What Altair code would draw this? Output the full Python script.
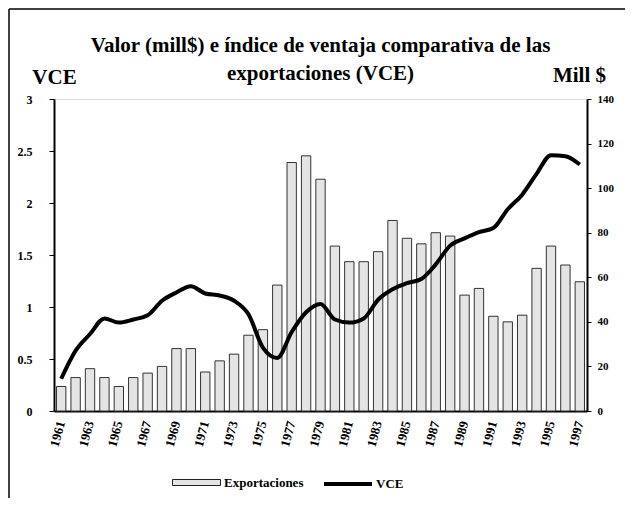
import altair as alt
import pandas as pd

years = list(range(1961, 1998))
exportaciones = [11, 15, 19, 15, 11, 15, 17, 20, 28, 28, 17.5, 22.5, 25.5, 34, 36.5,
                 56.5, 111.5, 114.5, 104, 74, 67, 67, 71.5, 85.5, 77.5, 75, 80, 78.5,
                 52, 55, 42.5, 40, 43, 64, 74, 65.5, 58]
vce = [0.31, 0.58, 0.74, 0.89, 0.85, 0.88, 0.92, 1.06, 1.14, 1.20, 1.13, 1.11, 1.06,
       0.93, 0.61, 0.51, 0.76, 0.95, 1.03, 0.88, 0.85, 0.89, 1.07, 1.17, 1.23, 1.27,
       1.41, 1.59, 1.66, 1.72, 1.76, 1.94, 2.08, 2.28, 2.46, 2.45, 2.37]
label_years = [y for y in years if y % 2 == 1]
vce_ticks = [0, 0.5, 1, 1.5, 2, 2.5, 3]
mill_ticks = [0, 20, 40, 60, 80, 100, 120, 140]

df = pd.DataFrame({"year": years, "exp": exportaciones, "vce": vce,
                   "s1": "Exportaciones", "s2": "VCE"})

FONT = "Liberation Serif"

x = alt.X("year:O", title=None,
          scale=alt.Scale(paddingInner=0.35, paddingOuter=0.175),
          axis=alt.Axis(values=label_years, labelAngle=-75, ticks=False,
                        domainColor="black", domainWidth=2,
                        labelFont=FONT, labelFontWeight="bold", labelFontSize=13,
                        labelColor="black", labelPadding=10))

bars = alt.Chart(df).mark_bar(stroke="#333333", strokeWidth=1).encode(
    x=x,
    y=alt.Y("exp:Q", title="Mill $",
            scale=alt.Scale(domain=[0, 140], nice=False),
            axis=alt.Axis(orient="right", values=mill_ticks, grid=False,
                          domainColor="black", domainWidth=2, tickColor="black",
                          tickSize=4, labelPadding=6, labelFont=FONT,
                          labelFontWeight="bold", labelFontSize=11, labelColor="black",
                          titleAngle=0, titleX=-8, titleY=-24, titleAlign="center",
                          titleBaseline="middle", titleFont=FONT, titleFontSize=21,
                          titleFontWeight="bold", titleColor="black")),
    fill=alt.Fill("s1:N", scale=alt.Scale(domain=["Exportaciones"], range=["#e4e4e4"]),
                  legend=alt.Legend(title=None, orient="none", legendX=118, legendY=359,
                                    symbolType="M-1,-0.125H1V0.125H-1Z", symbolSize=2304,
                                    symbolStrokeColor="#222222", symbolStrokeWidth=1,
                                    symbolFillColor="#ffffff",
                                    labelFont=FONT, labelFontWeight="bold",
                                    labelFontSize=13, labelColor="black", padding=0,
                                    labelOffset=3)),
)

line = alt.Chart(df).mark_line(strokeWidth=4, interpolate="monotone").encode(
    x=x,
    y=alt.Y("vce:Q", title="VCE",
            scale=alt.Scale(domain=[0, 3], nice=False),
            axis=alt.Axis(orient="left", values=vce_ticks, format="~g", grid=False,
                          domainColor="black", domainWidth=2, tickColor="black",
                          tickSize=5, labelPadding=17, labelFont=FONT,
                          labelFontWeight="bold", labelFontSize=12, labelColor="black",
                          titleAngle=0, titleX=0, titleY=-22, titleAlign="center",
                          titleBaseline="middle", titleFont=FONT, titleFontSize=21,
                          titleFontWeight="bold", titleColor="black")),
    stroke=alt.Stroke("s2:N", scale=alt.Scale(domain=["VCE"], range=["black"]),
                      legend=alt.Legend(title=None, orient="none", legendX=268, legendY=359,
                                        symbolType="stroke", symbolSize=2304,
                                        symbolStrokeWidth=4, labelFont=FONT,
                                        labelFontWeight="bold", labelFontSize=13,
                                        labelColor="black", padding=0, labelOffset=2)),
)

frame_df = pd.DataFrame({"k": [0]})
frame_top = alt.Chart(frame_df).mark_rule(color="black", strokeWidth=1.5).encode(
    x=alt.value(-45), x2=alt.value(600), y=alt.value(-90), y2=alt.value(-90))
frame_left = alt.Chart(frame_df).mark_rule(color="black", strokeWidth=1.5).encode(
    x=alt.value(-45), x2=alt.value(-45), y=alt.value(-90), y2=alt.value(420))

chart = alt.layer(bars, line, frame_top, frame_left).resolve_scale(
    y="independent", fill="independent", stroke="independent"
).properties(
    width=533, height=312,
    autosize=alt.AutoSizeParams(type="none"),
    padding={"left": 46, "top": 91, "right": 38, "bottom": 87},
    title=alt.TitleParams(["Valor (mill$) e índice de ventaja comparativa de las",
                           "exportaciones (VCE)"],
                          font=FONT, fontSize=21, fontWeight="bold", color="black",
                          anchor="middle", frame="group", offset=18, dy=94,
                          lineHeight=28),
).configure_view(stroke="#999999", strokeWidth=1.5).configure(background="white")

chart.save("out.html", embed_options={"renderer": "svg", "actions": False})
